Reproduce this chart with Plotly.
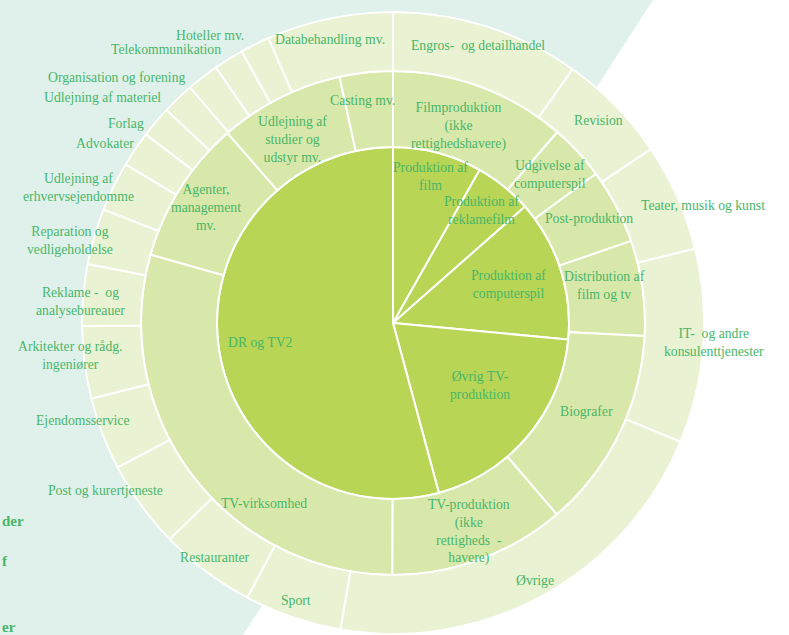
import numpy as np
import plotly.graph_objects as go

# ---------------- data (shares, %) ----------------
inner_labels = ["Produktion af<br>film", "Produktion af<br>reklamefilm", "Produktion af<br>computerspil",
                "Øvrig TV-<br>produktion", "DR og TV2"]
inner_values = [8.2, 5.3, 13.0, 19.3, 54.2]

middle_labels = ["Filmproduktion<br>(ikke<br>rettighedshavere)", "Udgivelse af<br>computerspil",
                 "Post-produktion", "Distribution af<br>film og tv", "Biografer",
                 "TV-produktion<br>(ikke<br>rettigheds  -<br>havere)", "TV-virksomhed",
                 "Agenter,<br>management<br>mv.", "Udlejning af<br>studier og<br>udstyr mv.", "Casting mv."]
middle_values = [11.3, 3.6, 4.8, 6.1, 12.9, 11.3, 29.3, 9.2, 8.0, 3.4]

outer_labels = ["Engros-  og detailhandel", "Revision", "Teater, musik og kunst",
                "IT-  og andre<br>konsulenttjenester", "Øvrige", "Sport", "Restauranter",
                "Post og kurertjeneste", "Ejendomsservice", "Arkitekter og rådg.<br>ingeniører",
                "Reklame -  og<br>analysebureauer", "Reparation og<br>vedligeholdelse",
                "Udlejning af<br>erhvervsejendomme", "Advokater", "Forlag", "Udlejning af materiel",
                "Organisation og forening", "Telekommunikation", "Hoteller mv.", "Databehandling mv."]
outer_values = [9.81, 5.75, 5.61, 10.08, 21.47, 5.06, 5.00, 4.56, 3.78, 3.75,
                3.19, 2.92, 2.56, 1.86, 1.64, 1.67, 1.67, 1.56, 1.53, 6.56]

side_texts = ["der", "f", "er"]

# ---------------- style / layout ----------------
W, H = 789, 635
CX, CY, RMAX = 393, 323, 312          # centre and polar radius in px
R_IN, R_MID, R_OUT = 176, 252, 311    # ring boundaries (radial axis units = px)

C_INNER, C_MID, C_OUTER = "#b8d555", "#d8e8aa", "#e9f2d2"
TXT = "#48b668"
TEAL = "#e0f1ec"
FONT = "Liberation Serif"
FS = 13.7

# label placement (radius, angle shift from slice centre)
inner_lr = [151, 143, 122, 107, 134]
inner_dt = [-0.5, -0.8, -0.2, -4.6, -0.9]
middle_lr = [208, 216, 222, 215, 213, 222, 222, 220, 209, 225]
middle_dt = [-1.9, -0.5, -0.5, -2.0, -1.6, 0.2, -17.5, -0.6, -2.2, -1.6]
outer_lr = [290, 288, 331, 322, 294.5, 293.5, 294, 333, 325, 324,
            313, 333.5, 343, 339.6, 333.6, 368, 369.7, 355.4, 341, 290.7]
outer_dt = [-0.65, -0.25, 3.2, -0.85, 0.05, 0.4, 0.3, 5.7, 3.3, 1.55,
            -1.25, -1.85, -2.7, -2.05, -3.55, -8.5, -10.6, -7.8, -6.05, -0.8]


def ring(values):
    v = np.asarray(values, dtype=float)
    deg = v / v.sum() * 360.0
    start = np.concatenate([[0], np.cumsum(deg)[:-1]])
    return start + deg / 2, deg


fig = go.Figure()

rings = [
    (inner_values, inner_labels, 0, R_IN, C_INNER, inner_lr, inner_dt),
    (middle_values, middle_labels, R_IN, R_MID, C_MID, middle_lr, middle_dt),
    (outer_values, outer_labels, R_MID, R_OUT, C_OUTER, outer_lr, outer_dt),
]

for vals, labs, r0, r1, col, lr, dt in rings:
    mid, width = ring(vals)
    fig.add_trace(go.Barpolar(
        theta=mid, width=width, base=[r0] * len(vals), r=[r1 - r0] * len(vals),
        marker=dict(color=col, line=dict(color="white", width=2)),
        hoverinfo="skip", showlegend=False,
    ))

# invisible cartesian axes sharing the polar centre and px scale, used to place labels
fig.add_trace(go.Scatter(x=[-CX, W - CX], y=[-(H - CY), CY], mode="markers",
                         marker=dict(opacity=0), hoverinfo="skip", showlegend=False))

for vals, labs, r0, r1, col, lr, dt in rings:
    mid, width = ring(vals)
    th = np.radians(mid + np.asarray(dt))
    rr = np.asarray(lr, dtype=float)
    for t, xx, yy in zip(labs, rr * np.sin(th), rr * np.cos(th)):
        fig.add_annotation(text=t, x=xx, y=yy, xref="x", yref="y", showarrow=False,
                           xanchor="center", yanchor="middle", align="center",
                           font=dict(family=FONT, size=FS, color=TXT))

fig.update_layout(
    width=W, height=H, margin=dict(l=0, r=0, t=0, b=0),
    paper_bgcolor="white", plot_bgcolor="rgba(0,0,0,0)",
    xaxis=dict(range=[-CX, W - CX], visible=False, fixedrange=True),
    yaxis=dict(range=[-(H - CY), CY], visible=False, fixedrange=True),
    polar=dict(
        domain=dict(x=[(CX - RMAX) / W, (CX + RMAX) / W], y=[(H - CY - RMAX) / H, (H - CY + RMAX) / H]),
        bgcolor="rgba(0,0,0,0)", bargap=0, hole=0,
        radialaxis=dict(range=[0, RMAX], visible=False, showgrid=False),
        angularaxis=dict(rotation=90, direction="clockwise", showgrid=False, showline=False,
                         showticklabels=False, ticks=""),
    ),
    shapes=[dict(type="path", xref="paper", yref="paper", layer="below",
                 path=f"M 0 1 L {653 / W} 1 L {243 / W} 0 L 0 0 Z",
                 fillcolor=TEAL, line=dict(width=0))],
)

for txt, y in zip(side_texts, [521, 561, 627]):
    fig.add_annotation(text=txt, xref="paper", yref="paper", x=0, y=1 - y / H,
                       xanchor="left", yanchor="middle", showarrow=False,
                       font=dict(family=FONT, size=15, color=TXT, weight="bold"))

fig.write_html("out.html", config={"displayModeBar": False},
               post_script="document.body.style.margin='0';document.body.style.overflow='hidden';")
